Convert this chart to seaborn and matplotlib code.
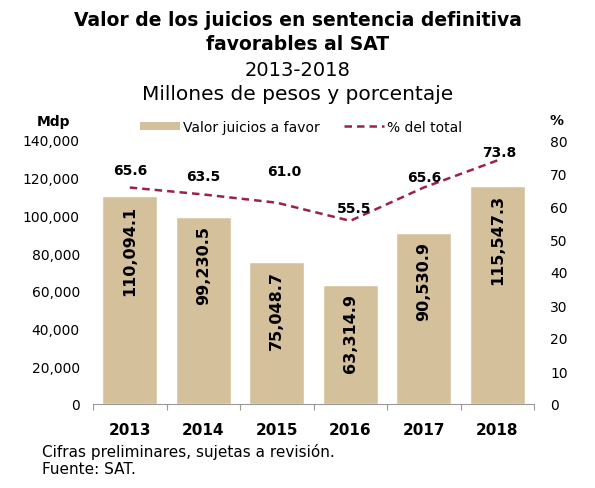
import numpy as np
import pandas as pd
import matplotlib
matplotlib.use("Agg")
import matplotlib.pyplot as plt
import seaborn as sns
from matplotlib.patches import Patch
from matplotlib.lines import Line2D

# datos
anios = ['2013', '2014', '2015', '2016', '2017', '2018']
valor_juicios = [110094.1, 99230.5, 75048.7, 63314.9, 90530.9, 115547.3]
pct_total = [65.6, 63.5, 61.0, 55.5, 65.6, 73.8]
etiquetas_valor = ['110,094.1', '99,230.5', '75,048.7', '63,314.9', '90,530.9', '115,547.3']
etiquetas_pct = ['65.6', '63.5', '61.0', '55.5', '65.6', '73.8']

# desplazamiento (px) de las etiquetas de la linea
offs_pct = [(0, 18), (0, 18), (7, 32), (4, 13), (0, 11), (2, 8)]

sns.set_style('white')
plt.rcParams['font.family'] = ['DejaVu Sans']
plt.rcParams['text.color'] = 'black'
plt.rcParams['xtick.color'] = 'black'
plt.rcParams['ytick.color'] = 'black'

color_barra = '#D4C19C'
color_linea = '#9B2247'

df = pd.DataFrame({'anio': anios, 'valor': valor_juicios, 'pct': pct_total})

fig = plt.figure(figsize=(5.95, 4.89), dpi=100)
ax = fig.add_axes([93 / 595, 84 / 489, 441 / 595, 264 / 489])

sns.barplot(data=df, x='anio', y='valor', color=color_barra, width=0.75,
            saturation=1, ax=ax)
ax.set_xlim(-0.5, 5.5)
ax.set_ylim(0, 140000)
ax.set_yticks(np.arange(0, 140001, 20000))
ax.set_yticklabels([f'{v:,.0f}' for v in np.arange(0, 140001, 20000)], fontsize=10)
ax.set_xlabel('')
ax.set_ylabel('')
ax.tick_params(axis='y', length=0, pad=9.5)
ax.tick_params(axis='x', which='major', length=0, pad=13)
ax.set_xticks(np.arange(-0.5, 6, 1), minor=True)
ax.tick_params(axis='x', which='minor', length=4, color='#999999', width=0.8,
               direction='out', bottom=True)
for lbl in ax.get_xticklabels():
    lbl.set_fontweight('bold')
    lbl.set_fontsize(11)
for s in ['top', 'left', 'right']:
    ax.spines[s].set_visible(False)
ax.spines['bottom'].set_color('#999999')
ax.spines['bottom'].set_linewidth(0.8)

# etiquetas de las barras
for i, (v, t) in enumerate(zip(valor_juicios, etiquetas_valor)):
    ax.annotate(t, (i, v), xytext=(0, -8), textcoords='offset pixels',
                rotation=90, ha='center', va='top', fontsize=11.5,
                fontweight='bold', color='black')

# linea de porcentaje
ax2 = ax.twinx()
sns.lineplot(x=np.arange(len(anios)), y=pct_total, ax=ax2, color=color_linea,
             linewidth=1.8, linestyle=(0, (3, 2)))
ax2.set_ylim(0, 80)
ax2.set_yticks(np.arange(0, 81, 10))
ax2.set_yticklabels([str(v) for v in range(0, 81, 10)], fontsize=10)
ax2.tick_params(axis='y', length=0, pad=11.5)
for s in ['top', 'left', 'right', 'bottom']:
    ax2.spines[s].set_visible(False)
ax2.set_xlim(-0.5, 5.5)

for i, (v, t) in enumerate(zip(pct_total, etiquetas_pct)):
    ax2.annotate(t, (i, v), xytext=offs_pct[i], textcoords='offset pixels',
                 ha='center', va='center', fontsize=10, fontweight='bold',
                 color='black')

# unidades
fig.text(53 / 595, 1 - 122 / 489, 'Mdp', ha='center', va='center',
         fontsize=10, fontweight='bold')
fig.text(557 / 595, 1 - 121 / 489, '%', ha='center', va='center',
         fontsize=10, fontweight='bold')

# leyenda
handles = [Patch(facecolor=color_barra, edgecolor='none'),
           Line2D([0], [0], color=color_linea, lw=1.8, linestyle=(0, (3, 2)))]
fig.legend(handles, ['Valor juicios a favor', '% del total'], ncol=2,
           loc='center', bbox_to_anchor=(301 / 595, 1 - 128 / 489),
           frameon=False, fontsize=10, handlelength=2.9, handleheight=0.55,
           handletextpad=0.25, columnspacing=1.7)

# titulos
fig.text(0.5, 1 - 21 / 489, 'Valor de los juicios en sentencia definitiva',
         ha='center', va='center', fontsize=13.5, fontweight='bold')
fig.text(0.5, 1 - 45 / 489, 'favorables al SAT', ha='center', va='center',
         fontsize=13.5, fontweight='bold')
fig.text(0.5, 1 - 70 / 489, '2013-2018', ha='center', va='center',
         fontsize=14)
fig.text(0.5, 1 - 95 / 489, 'Millones de pesos y porcentaje', ha='center',
         va='center', fontsize=14.5)

# notas
fig.text(42 / 595, 1 - 452 / 489, 'Cifras preliminares, sujetas a revisión.',
         ha='left', va='center', fontsize=11)
fig.text(42 / 595, 1 - 470 / 489, 'Fuente: SAT.', ha='left', va='center',
         fontsize=11)

fig.savefig('out.png', dpi=100)
